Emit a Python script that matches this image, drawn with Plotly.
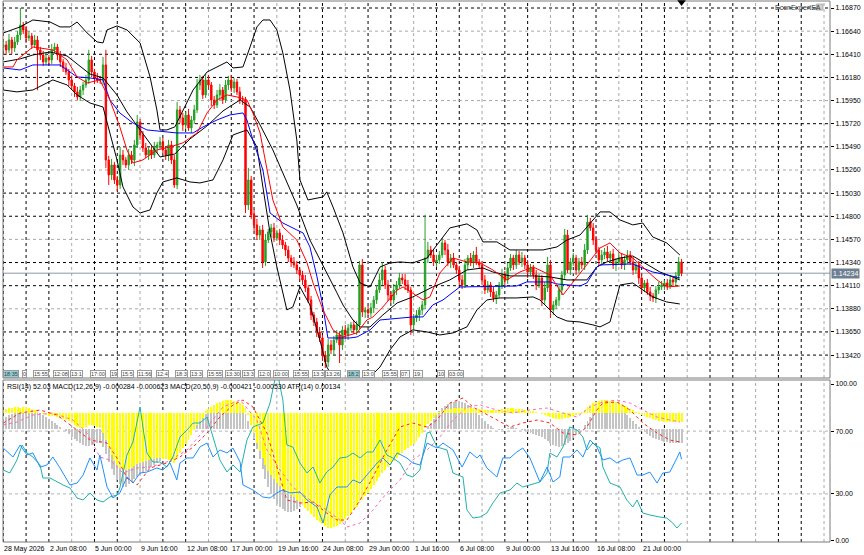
import plotly.graph_objects as go

# ---------------- price data (H4 bars, index 0 = 28 May 2026) ----------------
closes = [
1.16503,1.16453,1.16552,1.16473,1.16533,1.16602,1.16701,1.16652,1.16572,1.16592,
1.16503,1.16552,1.16453,1.16403,1.16334,1.16373,1.16354,1.16453,1.16483,1.16403,
1.16334,1.16274,1.16234,1.16155,1.16095,1.16036,1.15986,1.16055,1.16105,1.16155,
1.16354,1.16234,1.16175,1.16155,1.16155,1.16304,1.15360,1.15211,1.15310,1.15161,
1.15111,1.15409,1.15360,1.15310,1.15409,1.15360,1.15509,1.15737,1.15608,1.15479,
1.15409,1.15459,1.15409,1.15479,1.15509,1.15539,1.15459,1.15409,1.15509,1.15360,
1.15111,1.15857,1.15777,1.15708,1.15807,1.15678,1.15757,1.15857,1.16105,1.16155,
1.16006,1.16155,1.16105,1.15956,1.15906,1.16006,1.16055,1.15956,1.16105,1.16155,
1.16075,1.16135,1.16036,1.15956,1.15956,1.14912,1.15161,1.14813,1.14714,1.14614,
1.14664,1.14346,1.14564,1.14644,1.14684,1.14584,1.14634,1.14564,1.14515,1.14465,
1.14385,1.14346,1.14316,1.14266,1.14217,1.14167,1.14087,1.13968,1.13819,1.13749,
1.13650,1.13590,1.13421,1.13352,1.13521,1.13471,1.13570,1.13620,1.13521,1.13670,
1.13620,1.13690,1.13720,1.13670,1.13720,1.14316,1.13849,1.13869,1.13839,1.13889,
1.13968,1.14067,1.14167,1.14266,1.14117,1.14018,1.13968,1.14067,1.14117,1.14187,
1.14167,1.14117,1.14067,1.13720,1.13789,1.13819,1.13869,1.13918,1.14385,1.14465,
1.14415,1.14346,1.14366,1.14415,1.14535,1.14465,1.14346,1.14385,1.14316,1.14266,
1.14167,1.14117,1.14316,1.14385,1.14346,1.14415,1.14346,1.14316,1.14167,1.14067,
1.14117,1.14048,1.13988,1.14018,1.14117,1.14217,1.14167,1.14286,1.14385,1.14316,
1.14415,1.14346,1.14385,1.14316,1.14246,1.14286,1.14217,1.14117,1.14187,1.13968,
1.14087,1.14316,1.13869,1.13918,1.13968,1.14067,1.14217,1.14614,1.14266,1.14346,
1.14385,1.14266,1.14346,1.14316,1.14465,1.14743,1.14684,1.14564,1.14465,1.14366,
1.14415,1.14445,1.14385,1.14425,1.14316,1.14346,1.14385,1.14316,1.14366,1.14415,
1.14346,1.14266,1.14316,1.14187,1.14087,1.14137,1.14048,1.14008,1.13988,1.14067,
1.14097,1.14117,1.14137,1.14107,1.14167,1.14147,1.14207,1.14346,1.14234]
first_open = 1.16480
wick_up_pips = [
5,4,6,3,5,4,17,3,4,5, 3,5,4,3,4,5,3,6,4,3, 4,3,5,3,4,3,5,4,3,5, 10,4,3,5,4,8,15,4,6,3,
4,8,5,3,6,4,5,7,3,4, 5,3,4,6,3,5,4,3,5,4, 5,8,4,5,3,6,4,5,6,5, 4,6,5,3,4,5,6,3,5,4,
5,4,3,5,4,3,12,4,5,6, 4,5,6,3,4,5,3,4,5,3, 4,3,5,4,3,4,5,3,4,3, 4,5,3,4,6,5,4,5,3,4,
5,4,3,5,4,4,6,3,4,5, 4,5,6,8,4,5,3,6,4,5, 4,6,5,3,4,5,3,4,43,8, 4,6,5,4,5,3,6,4,5,3,
4,5,6,3,5,4,8,3,4,5, 4,3,5,4,3,6,4,5,4,3, 5,4,6,3,5,4,3,5,4,3, 6,8,5,4,3,5,4,6,5,4,
5,3,4,5,6,7,4,5,4,3, 5,4,6,3,5,4,6,5,4,5, 4,5,3,4,5,3,4,5,3,4, 5,4,3,4,5,3,4,5,3]
wick_dn_pips = [
4,5,3,6,4,3,5,4,5,3, 4,3,40,5,4,3,5,4,3,5, 5,4,3,6,4,5,3,4,5,3, 4,5,6,3,4,5,8,10,5,4,
6,4,5,3,5,4,6,3,5,4, 3,5,4,3,5,4,3,5,6,4, 3,4,5,6,4,3,5,4,3,5, 4,3,5,6,4,3,5,4,3,5,
4,5,3,4,5,8,5,4,6,5, 5,6,4,3,5,4,3,5,4,6, 4,5,3,4,6,5,4,3,5,4, 5,4,6,6,5,4,6,3,18,5,
4,5,3,4,5,4,5,6,3,4, 5,4,3,5,4,6,3,4,5,3, 4,5,3,10,5,4,6,5,4,5, 3,4,5,4,3,5,4,6,3,4,
5,4,3,5,4,6,3,4,5,4, 3,5,4,6,3,4,5,4,3,5, 4,3,5,4,6,3,4,5,3,6, 5,4,8,5,4,6,5,4,3,5,
4,5,3,4,5,4,3,5,4,6, 5,4,3,5,4,6,3,4,5,4, 3,5,4,6,5,4,3,5,4,5, 4,3,5,4,3,5,4,4,3]

time_labels = ["28 May 2026", "2 Jun 08:00", "5 Jun 00:00", "9 Jun 16:00", "12 Jun 08:00",
               "17 Jun 00:00", "19 Jun 16:00", "24 Jun 08:00", "29 Jun 00:00", "1 Jul 16:00",
               "6 Jul 08:00", "9 Jul 00:00", "13 Jul 16:00", "16 Jul 08:00", "21 Jul 00:00"]
time_label_bars = [0, 16, 32, 48, 64, 80, 96, 112, 128, 144, 160, 176, 192, 208, 224]
grid_bars = [8 * k for k in range(37)]
price_ticks = [1.16870, 1.16640, 1.16410, 1.16180, 1.15950, 1.15720, 1.15490, 1.15260,
               1.15030, 1.14800, 1.14570, 1.14340, 1.14110, 1.13880, 1.13650, 1.13420]
osc_ticks = [0, 30, 70, 100]

# ---------------- main-chart indicators (bar index, price) ----------------
bb_upper_x = [0,5.9,10.4,16.4,19.9,23.4,25.9,29.4,32.9,35,36.4,39.9,43.4,48,51.5,53.9,55,57.4,60.2,62,
              66.6,71.5,78.5,80.6,84.1,86.6,89,91.1,93.6,96,98.1,100.6,103,104.1,106.9,112.2,113.5,115.7,119.2,122.7,
              125.2,128.7,132.2,135.7,139.2,143.7,148.7,154.3,156.7,162.7,166.2,168.3,173.2,177.8,183.7,189.4,194.3,197.8,202.4,205.9,
              209.4,212.9,216.4,220.9,224.4,227.9,232.8,237.4]
bb_upper = [1.16622,1.16682,1.16751,1.16731,1.16682,1.16682,1.16731,1.16622,1.16533,1.16523,
            1.16652,1.16692,1.16652,1.16523,1.16185,1.15857,1.15658,1.15658,1.15688,1.15787,
            1.16055,1.16234,1.16334,1.16274,1.16284,1.16483,1.16682,1.16751,1.16751,1.16652,
            1.16423,1.16055,1.15558,1.15161,1.14962,1.14992,1.15042,1.14892,1.14634,1.14296,
            1.14137,1.14097,1.14296,1.14336,1.14346,1.14336,1.14385,1.14594,1.14684,1.14724,
            1.14664,1.14545,1.14545,1.14465,1.14465,1.14465,1.14495,1.14564,1.14614,1.14733,
            1.14843,1.14843,1.14763,1.14714,1.14733,1.14594,1.14535,1.14415]
bb_mid_x = [0,5.9,10.4,16.4,22.4,26.9,30.4,35,39.9,43.4,48,51.5,55,60.2,65.5,71.5,77.1,83.1,86.6,90.1,
            94.6,98.1,103,107.6,112.2,117.1,119.2,122.7,125.2,128.7,133.2,138.2,143.7,150.7,156.7,162.7,168.3,171.8,177.8,185.9,
            191.8,197.8,204.8,208.3,211.8,216.4,220.9,225.8,230.4,234.9,237.4]
bb_mid = [1.16334,1.16364,1.16403,1.16433,1.16393,1.16294,1.16214,1.16175,1.16006,1.15837,
          1.15658,1.15529,1.15389,1.15419,1.15568,1.15698,1.15847,1.15956,1.15886,1.15708,
          1.15459,1.15230,1.14912,1.14564,1.14316,1.14038,1.13918,1.13769,1.13700,1.13700,
          1.13819,1.13938,1.13998,1.14097,1.14167,1.14266,1.14286,1.14246,1.14207,1.14207,
          1.14197,1.14167,1.14167,1.14296,1.14346,1.14385,1.14405,1.14326,1.14246,1.14197,1.14167]
bb_low_x = [0,4.8,10.4,15.3,17.4,22.4,25.9,30.4,35,37.4,39.9,42,45.5,48,51.5,53.9,56,60.9,65.5,69,
            73.6,77.1,80.6,85.5,89,91.1,93.6,96,99.5,101.6,104.1,107.6,111.1,113.5,116.4,119.9,125.2,129.4,132.2,135.7,
            139.2,143.7,148.7,153.2,157.8,162.7,166.2,169.7,174.3,180.2,185.9,188.3,191.8,194.3,197.8,202.4,206.9,209.4,212.9,216.4,
            220.9,224.4,227.9,232.8,237.4]
bb_low = [1.16055,1.16036,1.16055,1.16125,1.16155,1.16105,1.16006,1.15926,1.15886,1.15628,
          1.15360,1.15091,1.14892,1.14833,1.14863,1.15032,1.15141,1.15181,1.15141,1.15131,
          1.15161,1.15360,1.15608,1.15658,1.15489,1.15091,1.14634,1.14296,1.13869,1.13898,
          1.14097,1.13918,1.13570,1.13302,1.13173,1.13093,1.13123,1.13223,1.13302,1.13471,
          1.13600,1.13670,1.13650,1.13620,1.13640,1.13700,1.13869,1.13968,1.13988,1.13988,
          1.13998,1.13968,1.13869,1.13799,1.13759,1.13749,1.13720,1.13700,1.13749,1.14117,
          1.14137,1.14067,1.13998,1.13948,1.13928]
ma_red_x = [0,3.4,4.8,10.4,17.4,22.4,25.9,29.4,33.9,37.4,40.9,43.4,45.5,49,53.9,58.5,63,68,71.5,75,
            78.5,82,85.5,87.6,90.1,92.5,94.6,98.1,103,106.6,108.7,112.2,115.7,119.2,124.1,127.6,129.7,133.2,138.2,140.3,
            143.7,147.3,149.7,153.2,157.8,162.7,167.3,171.8,176.7,181.3,185.9,191.8,196.4,201.3,205.9,209.4,212.9,216.4,220.9,224.4,
            229.4,232.8,237.4]
ma_red = [1.16284,1.16284,1.16354,1.16483,1.16453,1.16354,1.16185,1.16125,1.16155,1.15956,
          1.15688,1.15459,1.15330,1.15360,1.15459,1.15489,1.15529,1.15628,1.15827,1.15956,
          1.16006,1.15986,1.15956,1.15827,1.15628,1.15290,1.14962,1.14694,1.14564,1.14336,
          1.14137,1.13869,1.13670,1.13600,1.13640,1.13769,1.13799,1.13898,1.14067,1.14097,
          1.14038,1.13968,1.13998,1.14236,1.14385,1.14346,1.14336,1.14266,1.14167,1.14246,
          1.14296,1.14217,1.14018,1.14197,1.14366,1.14485,1.14535,1.14435,1.14385,1.14296,
          1.14167,1.14097,1.14107]
ma_blue_x = [0,5.9,10.4,19.9,25.9,30.4,35,37.4,40.9,45.5,50.4,56,60.9,66.6,70.1,75,79.5,84.1,85.5,87.6,
             91.1,93.6,98.1,103,105.2,107.6,110.1,112.2,113.9,121.6,124.1,128.7,132.2,143.7,147.3,150.7,154.3,160.2,180.2,183.7,
             191.8,194.3,202.4,204.8,208.3,209.4,220.9,223.4,227.9,232.8,237.4]
ma_blue = [1.16274,1.16254,1.16304,1.16304,1.16185,1.16175,1.16155,1.15956,1.15827,1.15727,
           1.15658,1.15638,1.15628,1.15628,1.15688,1.15757,1.15807,1.15827,1.15757,1.15558,
           1.15260,1.14833,1.14733,1.14664,1.14634,1.14495,1.14197,1.13898,1.13590,1.13590,
           1.13600,1.13670,1.13769,1.13799,1.13799,1.13918,1.13968,1.14097,1.14107,1.14147,
           1.14147,1.14127,1.14107,1.14137,1.14296,1.14316,1.14326,1.14296,1.14246,1.14217,1.14187]

# ---------------- oscillator window ----------------
rsi_x = [0,3.4,5.9,8.3,10.4,12.9,15.3,17.4,19.9,23.4,25.9,28,30.4,32.9,33.9,36.4,38.5,40.9,43.4,45.5,
         48,50.4,53.9,56,58.5,60.9,62,64.5,66.6,69,71.5,73.6,76,78.5,80.6,83.1,84.1,87.6,91.1,93.6,
         96,98.1,100.6,104.1,106.6,110.1,112.2,114.6,117.1,120.6,122.7,125.2,127.6,131.2,133.2,135.7,138.2,141.6,143.7,146.2,
         148.7,152.2,154.3,157.8,161,163.7,166.2,167.3,169.7,173.2,175.3,177.8,180.2,182.3,184.8,188.3,190.8,192.9,195.3,196.4,
         198.8,201.3,203.4,205.9,208.3,210.4,212.9,215.3,217.4,219.9,222.4,224.4,226.9,229.4,231.4,233.9,236.4,237.4,238]
rsi = [59.2,53.5,61.1,54.8,56.1,47.1,48.4,53.5,46.5,35.7,36.9,42.0,52.9,45.2,54.8,34.4,27.4,30.6,40.8,36.9,
       43.3,43.9,46.5,45.2,49.7,38.9,49.7,52.9,52.9,59.9,62.4,53.5,58.0,56.1,59.2,50.3,35.7,32.5,28.0,27.4,
       30.6,32.5,30.6,31.2,26.1,21.7,11.5,29.3,34.4,34.4,38.9,36.9,42.0,49.7,52.9,48.4,56.1,52.9,49.7,48.4,
       62.4,59.2,62.4,58.0,47.1,56.7,52.9,54.8,46.5,40.8,52.9,52.9,56.7,59.2,52.9,37.6,47.1,37.6,40.8,53.5,
       53.5,58.0,53.5,64.3,59.9,51.6,52.9,49.7,51.6,52.9,42.0,42.0,43.9,36.9,43.3,43.9,52.9,56.7,52.03]
atr_x = [0,2.3,4.8,6.6,8.3,10.4,12.9,13.9,16.4,18.8,21,23.4,25.9,28,30.4,32.9,35,37.4,39.9,40.9,
         43.4,45.5,48,49,50.4,52.5,55,57.4,59.5,62,64.5,66.6,69,71.5,73.6,76,78.5,80.6,83.1,84.1,
         85.5,87.6,91.1,93.6,96,98.1,99.5,101.6,104.1,106.6,108.7,111.1,113.5,115.7,118.1,120.6,122.7,125.2,127.6,129.7,
         132.2,134.6,136.7,139.2,141.6,143.7,146.2,148.7,149.7,152.2,155.7,157.8,161.3,162.7,164.8,167.3,169.7,171.8,174.3,177.8,
         180.2,182.3,184.8,188.3,190.8,191.8,194.3,196.4,198.8,201.3,203.4,204.8,206.9,209.4,210.4,212.9,216.4,218.8,220.9,222.4,
         224.4,226.9,230.4,232.8,234.9,236.4,238]
atr = [0.00187,0.00184,0.00197,0.00212,0.00204,0.00200,0.00192,0.00179,0.00179,0.00175,
       0.00172,0.00169,0.00159,0.00157,0.00164,0.00157,0.00155,0.00160,0.00162,0.00169,
       0.00202,0.00215,0.00250,0.00230,0.00204,0.00195,0.00195,0.00190,0.00200,0.00220,
       0.00227,0.00234,0.00234,0.00240,0.00220,0.00197,0.00185,0.00192,0.00185,0.00197,
       0.00217,0.00230,0.00234,0.00254,0.00287,0.00257,0.00212,0.00210,0.00194,0.00184,
       0.00190,0.00174,0.00185,0.00190,0.00199,0.00200,0.00204,0.00199,0.00205,0.00205,
       0.00217,0.00202,0.00199,0.00194,0.00182,0.00180,0.00187,0.00224,0.00225,0.00210,
       0.00207,0.00184,0.00180,0.00147,0.00139,0.00140,0.00144,0.00154,0.00164,0.00167,
       0.00174,0.00170,0.00172,0.00175,0.00184,0.00204,0.00200,0.00210,0.00230,0.00227,
       0.00220,0.00207,0.00214,0.00209,0.00190,0.00174,0.00170,0.00157,0.00150,0.00157,
       0.00144,0.00142,0.00140,0.00139,0.00134,0.00129,0.00134]

# MACD histograms, one value per bar, in points (0.00001)
macd_12_26_pts = [
9,12,15,15,18,18,15, 18,18,15,12,9,6,0,-3, -6,-9,-9,-9,-12,-15,-18,-21,
-24,-30,-36,-42,-45,-45,-42,-36,-36,-39,-42,
-45,-60,-81,-105,-126,-144,-156,-165,-168,-171,-168,-165,
-159,-153,-150,-147,-144,-141,-138,-138,-135,-135,-138,-138,-141,-144,-150,-135,-120,
-105,-93,-81,-66,-51,-36,-24,-15,
6,12,18,24,30,33,36,39,39,39,36,33,30,24,15,
-6,-36,-60,-90,-114,-135,-156,-174,-186,-198,
-210,-219,-228,-234,-240,-246,-252,-261,-267,-276,-285,-294,-303,-312,-321,
-327,-333,-339,-345,-345,-342,-339,-333,-327,-318,
-309,-300,-291,-282,-270,-261,-249,-240,-228,-216,-204,-192,-180,
-171,-162,-153,-144,-135,-126,-120,-111,-105,-99,-93,-84,-72,-60,
-45,-33,-24,-15,-6,
3,6,9,12,12,15,15,15,15,15,15,15,15,12,12,12,9,9,9,9,
9,9,12,12,15,15,15,12,12,
12,9,9,6,6,3,0,-3,
-6,-9,-12,-15,-18,-18,-18,-15,-15,-12,-9,-6,-3,
3,9,18,24,30,33,36,39,39,39,36,36,33,30,27,21,18,12,9,3,
-3,-6,-9,-12,-15,-18,-21,-24,-24,-27,-27,-27,-27,-27,-27,-27]
macd_20_50_pts = [
30,36,42,45,48,51,54, 57,60,60,60,57,54,48,42, 36,30,24,18,12,6,0,-6,
-15,-24,-30,-36,-42,-48,-51,-51,-48,-45,-42,
-42,-54,-75,-99,-120,-138,-153,-165,-174,-174,-165,-156,
-150,-144,-138,-132,-126,-120,-114,-108,-102,-96,-90,-87,-84,-81,-81,-72,-60,
-48,-36,-24,-12,0,12,24,36,
45,54,60,66,72,75,78,78,78,78,75,72,66,57,45,
24,0,-30,-60,-90,-120,-150,-174,-195,-210,
-225,-234,-240,-246,-249,-249,-246,-240,-234,-228,-222,-216,-213,-210,-210,
-216,-222,-225,-222,-216,-210,-201,-192,-180,-168,
-156,-147,-138,-129,-120,-111,-102,-93,-84,-75,-69,-63,-57,
-51,-48,-45,-42,-39,-36,-36,-33,-30,-27,-24,-18,-12,-6,
0,9,18,30,42,
54,63,69,75,78,81,84,84,81,78,72,66,60,51,42,33,24,15,9,3,
0,-3,-3,0,3,6,6,3,0,
-3,-6,-9,-12,-15,-18,-21,-24,
-30,-36,-42,-48,-51,-54,-51,-48,-42,-36,-27,-18,-9,
0,12,24,36,48,57,66,72,75,78,78,75,72,66,60,51,42,33,24,15,
6,-3,-9,-15,-21,-27,-30,-33,-36,-39,-39,-42,-42,-42,-42,-42]
sig_12_26_x = [0,4.8,10.4,17.4,24.5,29.4,33.9,37.4,42,46.9,51.5,57.4,64.5,71.5,77.1,83.1,89,92.5,97.1,101.6,
               107.6,113.5,118.1,120.6,125.2,129.7,134.6,139.2,143.7,148.7,153.2,157.8,162.7,167.3,173.2,178.8,184.8,190.8,196.4,201.3,
               205.9,210.4,215.3,219.9,224.4,229.4,233.9,237.4]
sig_12_26_pts = [-36,-27,-6,0,-21,-60,-132,-141,-180,-165,-162,-147,-111,-42,18,39,-21,-111,-171,-222,
                 -261,-291,-321,-342,-330,-291,-240,-201,-141,-111,-72,-21,18,24,9,0,9,15,0,-12,
                 18,33,39,30,9,-12,-21,-27]
sig_20_50_x = [0,5.9,12.9,18.8,25.9,30.4,36.4,39.9,43.4,46.9,51.5,57.4,62,66.6,71.5,76,80.6,84.1,87.6,92.5,
               96,99.5,104.1,108.7,113.5,117.1,120.6,125.2,129.7,134.6,139.2,143.7,148.7,152.2,156.7,159.2,161.3,164.8,173.2,177.8,
               182.3,187.3,191.8,196.4,201.3,204.8,208.3,210.4,215.3,219.9,224.4,229.4,233.9,237.4]
sig_20_50_pts = [18,48,57,42,-3,-33,-42,-87,-147,-168,-117,-102,-84,-54,-12,36,72,87,66,-12,
                 -114,-213,-222,-219,-252,-273,-273,-213,-144,-63,6,18,6,27,78,87,93,66,27,6,
                 18,27,18,-12,-18,6,57,78,81,57,18,-12,-33,-39]

event_tags = ["18:35","0","15:55","12:08","13:1","17:00","19","15:5","11:56","12:4","18:3","13:3",
              "15:55","13:30","13:3","12:0","10:00","15:55","13:3","13:26","18:2","13:0","15:55",
              "07:","19:","10","03:00"]
event_bars = [0,6.6,10.4,17.4,23.4,30.4,37.4,41.3,46.9,53.6,60.2,65.5,71.5,77.8,83.8,89.4,94.6,
              101.6,108.3,112.9,120.6,125.9,133.0,139.2,143.9,152.2,156]
event_highlight = [True] + [False] * 19 + [True] + [False] * 6

legend_text = ("RSI(14) 52.03 MACD(12,26,9) -0.000284 -0.000623 MACD(20,50,9) "
               "-0.000421 -0.000530 ATR(14) 0.00134")

# ---------------- build ----------------
bars = list(range(len(closes)))
opens = [first_open] + closes[:-1]
highs = [max(o, c) + u * 0.0001 for o, c, u in zip(opens, closes, wick_up_pips)]
lows = [min(o, c) - d * 0.0001 for o, c, d in zip(opens, closes, wick_dn_pips)]

FONT = "Liberation Sans"
GREEN = "#24A024"
RED = "#FF0000"

fig = go.Figure()
fig.add_trace(go.Candlestick(
    x=bars, open=opens, high=highs, low=lows, close=closes,
    increasing=dict(line=dict(color=GREEN, width=1), fillcolor=GREEN),
    decreasing=dict(line=dict(color=RED, width=1), fillcolor=RED),
    whiskerwidth=0, xaxis="x", yaxis="y", showlegend=False, hoverinfo="skip"))

def line(x, y, color, xa="x", ya="y", dash="solid", width=1):
    fig.add_trace(go.Scatter(x=x, y=y, mode="lines", xaxis=xa, yaxis=ya,
                             line=dict(color=color, width=width, dash=dash),
                             showlegend=False, hoverinfo="skip"))

line(bb_upper_x, bb_upper, "#000000")
line(bb_low_x, bb_low, "#000000")
line(bb_mid_x, bb_mid, "#000000")
line(ma_blue_x, ma_blue, "#0000FF")
line(ma_red_x, ma_red, "#FF0000")

# oscillator window: each indicator on its own hidden scale
fig.add_trace(go.Bar(x=bars, y=macd_20_50_pts, width=0.34, marker=dict(color="#C4C4C4", line=dict(width=0)),
                     xaxis="x2", yaxis="y3", showlegend=False, hoverinfo="skip"))
fig.add_trace(go.Bar(x=bars, y=macd_12_26_pts, width=0.34, marker=dict(color="#FFFF00", line=dict(width=0)),
                     xaxis="x2", yaxis="y4", showlegend=False, hoverinfo="skip"))
line(sig_20_50_x, sig_20_50_pts, "#FF2020", "x2", "y5", dash="dot")
line(sig_12_26_x, sig_12_26_pts, "#FF69B4", "x2", "y6", dash="dot")
line(atr_x, atr, "#20B2AA", "x2", "y7")
line(rsi_x, rsi, "#1E90FF", "x2", "y8")

TOP = [0.30258, 0.99815]
BOT = [0.0, 0.29889]
xrange_ = [-0.1, 290.1]
osc_range = [-0.64, 102.55]

xcommon = dict(range=xrange_, zeroline=False, showticklabels=False, showgrid=False,
               ticks="", showline=False, fixedrange=True)
hidden = dict(visible=False, overlaying="y2", anchor="x2", fixedrange=True)

fig.update_layout(
    width=864, height=555, margin=dict(l=3, r=34, t=0, b=13),
    paper_bgcolor="white", plot_bgcolor="white", showlegend=False, barmode="overlay",
    font=dict(family=FONT, size=7, color="#000000"),
    xaxis=dict(domain=[0, 1], anchor="y", rangeslider=dict(visible=False), **xcommon),
    xaxis2=dict(domain=[0, 1], anchor="y2", matches="x", **xcommon),
    yaxis=dict(domain=TOP, range=[1.131922, 1.169396], side="right", anchor="x",
               tickmode="array", tickvals=price_ticks, ticktext=[f"{v:.5f}" for v in price_ticks],
               ticks="outside", ticklen=3, tickcolor="#000000", zeroline=False, fixedrange=True,
               showgrid=False, tickfont=dict(family=FONT, size=7, color="#000000")),
    yaxis2=dict(domain=BOT, range=osc_range, side="right", anchor="x2", tickmode="array",
                tickvals=osc_ticks, ticktext=[f"{v:.2f}" for v in osc_ticks], ticks="outside",
                ticklen=3, tickcolor="#000000", showgrid=False, zeroline=False, fixedrange=True,
                tickfont=dict(family=FONT, size=7, color="#000000")),
    yaxis3=dict(range=[-339, 147], **hidden),
    yaxis4=dict(range=[-387, 99], **hidden),
    yaxis5=dict(range=[-339, 147], **hidden),
    yaxis6=dict(range=[-387, 99], **hidden),
    yaxis7=dict(range=[0.00115, 0.00277], **hidden),
    yaxis8=dict(range=osc_range, **hidden),
)

DARK = "#000000"
LIGHT = "#A8A8A8"
shapes = []
# grid (dashed), drawn beneath the data
for k, b in enumerate(grid_bars):
    col = LIGHT if k % 3 == 0 and k > 0 else DARK
    for dom in (TOP, BOT):
        shapes.append(dict(type="line", xref="x", x0=b, x1=b, yref="paper", y0=dom[0], y1=dom[1],
                           line=dict(color=col, width=1, dash="3px,3px"), layer="below"))
for k, p in enumerate(price_ticks):
    col = LIGHT if k % 3 == 1 else DARK
    shapes.append(dict(type="line", xref="paper", x0=0, x1=1, yref="y", y0=p, y1=p,
                       line=dict(color=col, width=1, dash="3px,3px"), layer="below"))
# RSI levels
for lvl in (70, 30):
    shapes.append(dict(type="line", xref="paper", x0=0, x1=1, yref="y2", y0=lvl, y1=lvl,
                       line=dict(color="#B4B4B4", width=1, dash="3px,3px"), layer="below"))
# current price line
shapes.append(dict(type="line", xref="paper", x0=0, x1=1, yref="y", y0=closes[-1], y1=closes[-1],
                   line=dict(color="#8C98A6", width=1), layer="below"))
# panel frames
for dom in (TOP, BOT):
    shapes.append(dict(type="rect", xref="paper", yref="paper", x0=0, x1=1, y0=dom[0], y1=dom[1],
                       line=dict(color="#7A7A7A", width=1), fillcolor="rgba(0,0,0,0)"))
# chart shift marker above last bar
lb = bars[-1]
shapes.append(dict(type="path", xref="x", yref="paper",
                   path=f"M {lb-1.5},0.9995 L {lb+1.5},0.9995 L {lb},0.9889 Z",
                   fillcolor="#000000", line=dict(width=0)))
# small icon next to EA name
shapes.append(dict(type="rect", xref="paper", yref="paper", x0=0.9835, x1=0.9915, y0=0.9815, y1=0.9925,
                   fillcolor="#D0D0D0", line=dict(color="#B0B0B0", width=1)))

annotations = []
for lab, b in zip(time_labels, time_label_bars):
    annotations.append(dict(x=b, xref="x2", y=0, yref="paper", text=lab, showarrow=False,
                            xanchor="left", yanchor="top", yshift=-1, xshift=-1,
                            font=dict(family=FONT, size=7, color="#000000")))
annotations.append(dict(x=0, xref="paper", y=BOT[1], yref="paper", text=legend_text, showarrow=False,
                        xanchor="left", yanchor="top", xshift=2, yshift=-1,
                        font=dict(family=FONT, size=7, color="#000000")))
annotations.append(dict(x=1, xref="paper", y=closes[-1], yref="y", text=f"{closes[-1]:.5f}",
                        showarrow=False, xanchor="left", yanchor="middle", xshift=1,
                        bgcolor="#6E7F92", borderpad=1, font=dict(family=FONT, size=7, color="#FFFFFF")))
annotations.append(dict(x=0.9315, xref="paper", y=0.9855, yref="paper", text="EconExpertEA",
                        showarrow=False, xanchor="left", yanchor="middle",
                        font=dict(family=FONT, size=7, color="#333333")))
for t, b, hl in zip(event_tags, event_bars, event_highlight):
    annotations.append(dict(x=b, xref="x", y=0.3095, yref="paper", text=t, showarrow=False,
                            xanchor="left", yanchor="middle", borderpad=0,
                            bgcolor="#8FCFD6" if hl else "#FFFFFF",
                            bordercolor="#9A9A9A", borderwidth=1,
                            font=dict(family=FONT, size=5.5, color="#404040")))

fig.update_layout(shapes=shapes, annotations=annotations)
fig.write_html("out.html")
